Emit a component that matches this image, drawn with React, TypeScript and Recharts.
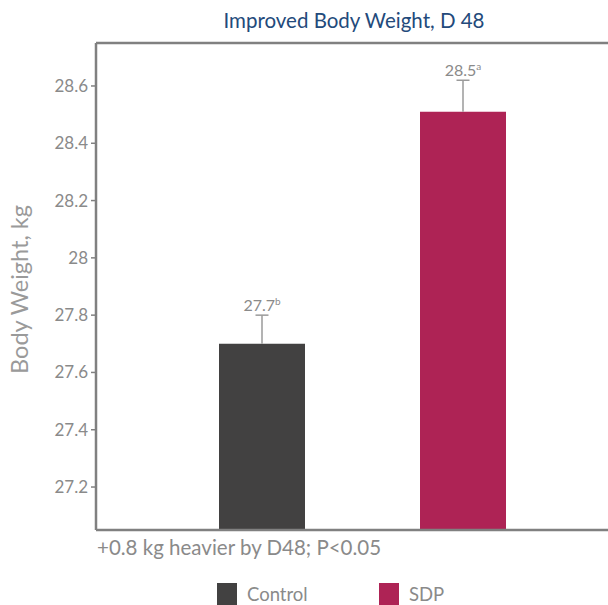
import React from 'react';
import { BarChart, Bar, XAxis, YAxis, Cell, LabelList, Legend, ReferenceLine } from 'recharts';

const categories = ['Control', 'SDP'];
const values = [27.7, 28.51];
const errors = [0.1, 0.11];
const valueLabels = ['27.7', '28.5'];
const superscripts = ['b', 'a'];
const colors = ['#424141', '#ae2355'];
const yTicks = [27.2, 27.4, 27.6, 27.8, 28, 28.2, 28.4, 28.6];
const yDomain: [number, number] = [27.05, 28.75];
const title = 'Improved Body Weight, D 48';
const yLabel = 'Body Weight, kg';
const note = '+0.8 kg heavier by D48; P<0.05';

const data = categories.map((c, i) => ({
  name: c,
  value: values[i],
}));

const FONT = 'Lato, "Noto Sans", sans-serif';
const AXIS = '#808080';
const TEXT = '#8a8a8a';
const WHISKER = '#9a9a9a';

const BarLabel = (props: any) => {
  const { x, y, width, height, index } = props;
  const v = values[index];
  const pxPerUnit = height / (v - yDomain[0]);
  const top = y - errors[index] * pxPerUnit;
  const cx = x + width / 2;
  return (
    <g>
      <line x1={cx} y1={y} x2={cx} y2={top} stroke={WHISKER} strokeWidth={1.5} />
      <line x1={cx - 6.5} y1={top} x2={cx + 6.5} y2={top} stroke={WHISKER} strokeWidth={1.5} />
      <text x={cx} y={top - 4} textAnchor="middle" fill={TEXT} fontSize={16} fontFamily={FONT}>
        {valueLabels[index]}
        <tspan fontSize={10} dy={-6}>{superscripts[index]}</tspan>
      </text>
    </g>
  );
};

const LegendContent = () => (
  <div style={{ height: 45, position: 'relative', fontFamily: FONT }}>
    {categories.map((c, i) => (
      <div
        key={c}
        style={{
          position: 'absolute',
          left: i === 0 ? 217 : 379,
          top: 23,
          display: 'flex',
          alignItems: 'center',
        }}
      >
        <div style={{ width: 20, height: 22, background: colors[i] }} />
        <span style={{ marginLeft: 10, fontSize: 18.5, color: TEXT, lineHeight: '22px' }}>{c}</span>
      </div>
    ))}
  </div>
);

export default function App() {
  return (
    <div style={{ width: 640, height: 605, background: '#fff', position: 'relative' }}>
      <style>{`html,body{margin:0;padding:0;overflow:hidden;}`}</style>
      <div
        style={{
          position: 'absolute',
          left: 0,
          top: 8,
          width: 708,
          textAlign: 'center',
          fontFamily: FONT,
          fontSize: 20.5,
          color: '#234a7b',
          lineHeight: '24px',
          zIndex: 2,
        }}
      >
        {title}
      </div>
      <BarChart
        width={640}
        height={605}
        data={data}
        margin={{ top: 43, right: 0, bottom: 0, left: 0 }}
      >
        <XAxis
          dataKey="name"
          height={30}
          tick={false}
          tickLine={false}
          padding={{ left: 65, right: 77 }}
          axisLine={{ stroke: AXIS, strokeWidth: 2.5 }}
          label={{
            content: (p: any) => {
              const vb = p.viewBox;
              return (
                <text x={vb.x + 1} y={vb.y + 25} fill={TEXT} fontSize={20.5} fontFamily={FONT}>
                  {note}
                </text>
              );
            },
          }}
        />
        <YAxis
          width={96}
          domain={yDomain}
          ticks={yTicks}
          allowDataOverflow
          tickSize={5}
          tickMargin={3}
          tick={{ fill: TEXT, fontSize: 17, fontFamily: FONT }}
          tickLine={{ stroke: AXIS, strokeWidth: 1.5 }}
          axisLine={{ stroke: AXIS, strokeWidth: 2.5 }}
          label={{
            content: (p: any) => {
              const vb = p.viewBox;
              const cx = 19;
              const cy = vb.y + vb.height / 2 + 3;
              return (
                <text
                  x={cx}
                  y={cy}
                  transform={`rotate(-90, ${cx}, ${cy})`}
                  textAnchor="middle"
                  dominantBaseline="central"
                  fill="#9a9a9a"
                  fontSize={23.5}
                  fontFamily={FONT}
                >
                  {yLabel}
                </text>
              );
            },
          }}
        />
        <ReferenceLine y={yDomain[1]} stroke={AXIS} strokeWidth={2.5} ifOverflow="extendDomain" />
        <Legend verticalAlign="bottom" content={<LegendContent />} wrapperStyle={{ left: 0, bottom: 0 }} />
        <Bar dataKey="value" barSize={86} isAnimationActive={false} legendType="none">
          {data.map((d, i) => (
            <Cell key={d.name} fill={colors[i]} />
          ))}
          <LabelList dataKey="value" content={<BarLabel />} />
        </Bar>
      </BarChart>
    </div>
  );
}
